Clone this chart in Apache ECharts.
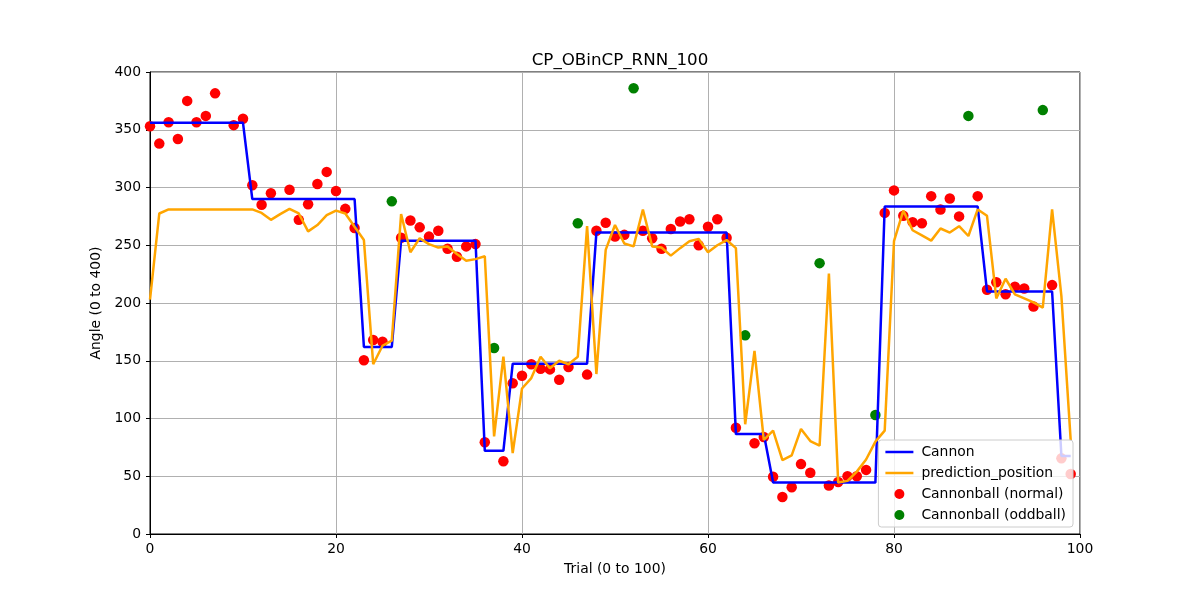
<!DOCTYPE html>
<html>
<head>
<meta charset="UTF-8">
<title>CP_OBinCP_RNN_100</title>
<script src="https://cdn.jsdelivr.net/npm/echarts@6/dist/echarts.min.js"></script>
<style>
  html, body { margin: 0; padding: 0; background: #fff; }
  #main { width: 1200px; height: 600px; }
</style>
</head>
<body>
<div id="main"></div>
<script>
// values, one per trial (0..99)
var cannon = [
  356, 356, 356, 356, 356, 356, 356, 356, 356, 356,
  356, 290, 290, 290, 290, 290, 290, 290, 290, 290,
  290, 290, 290, 162, 162, 162, 162, 254, 254, 254,
  254, 254, 254, 254, 254, 254, 72, 72, 72, 147.5,
  147.5, 147.5, 147.5, 147.5, 147.5, 147.5, 147.5, 147.5, 261, 261,
  261, 261, 261, 261, 261, 261, 261, 261, 261, 261,
  261, 261, 261, 86.5, 86.5, 86.5, 86.5, 44.5, 44.5, 44.5,
  44.5, 44.5, 44.5, 44.5, 44.5, 44.5, 44.5, 44.5, 44.5, 283.5,
  283.5, 283.5, 283.5, 283.5, 283.5, 283.5, 283.5, 283.5, 283.5, 283.5,
  210, 210, 210, 210, 210, 210, 210, 210, 67.5, 67.5
];

var prediction = [
  203, 277.5, 281, 281, 281, 281, 281, 281, 281, 281,
  281, 281, 278, 272, 277, 281.5, 277.5, 262, 267.5, 276,
  280, 277.5, 266, 254.5, 147, 163, 167.5, 277, 244, 256,
  251, 248, 249, 242.5, 236.5, 238, 240.5, 84.5, 153.5, 70,
  126, 135, 153.5, 143.5, 150, 147, 153.5, 266.5, 138.5, 246,
  267.5, 251.5, 249, 281, 249, 248, 241, 247.5, 253.5, 255.5,
  244, 250, 254.5, 247.5, 95, 158.5, 81.5, 89.5, 64, 68,
  91, 80.5, 76.5, 225.5, 44.5, 46, 54, 64.5, 80, 89.5,
  253.5, 280, 263, 258.5, 254, 264.5, 261, 266.5, 258, 281,
  275.5, 204, 221, 207.5, 204, 200.5, 196, 281, 206, 81
];

// normal cannonballs; null where the trial was an oddball or no dot is shown
var ballNormal = [
  353, 338, 356.5, 342, 375, 356.5, 362, 381.5, null, 354,
  359.5, 302, 285, 295, null, 298, 272, 285.5, 303, 313.5,
  297, 281.5, 265, 150.5, 168, 166.5, null, 256.5, 271.5, 265.5,
  257.5, 262.5, 247, 240, 249, 251, 79.5, null, 63, 130.5,
  137, 147, 143, 142.5, 133.5, 144.5, null, 138, 262.5, 269.5,
  257.5, 259, null, 262.5, 256, 247, 264, 270.5, 272.5, 250,
  266, 272.5, 256.5, 92, null, 78.5, 84, 49.5, 32, 40.5,
  60.5, 53, null, 42, 45, 50, 50, 55.5, null, 278,
  297.5, 275.5, 270, 269, 292.5, 281, 290.5, 275, null, 292.5,
  211.5, 218, 207.5, 214, 212.5, 197, null, 215.5, 65.5, 52
];

var oddTrials = [26, 37, 46, 52, 64, 72, 78, 88, 96];
var oddValues = [288, 161, 269, 386, 172, 234.5, 103, 362, 367];

var xTicks = [0, 20, 40, 60, 80, 100];
var yTicks = [0, 50, 100, 150, 200, 250, 300, 350, 400];

var font = 'DejaVu Sans';
var lineIcon = 'path://M0,0 L28,0 L28,2.5 L0,2.5 Z';

function pairs(vals) {
  var out = [];
  for (var i = 0; i < vals.length; i++) {
    if (vals[i] !== null) out.push([i, vals[i]]);
  }
  return out;
}

var oddData = oddTrials.map(function (t, i) { return [t, oddValues[i]]; });

var myChart = echarts.init(document.getElementById('main'));

var option = {
  animation: false,
  backgroundColor: '#ffffff',
  title: {
    text: 'CP_OBinCP_RNN_100',
    left: 615,
    top: 47,
    textAlign: 'center',
    textStyle: { fontFamily: font, fontSize: 16.7, fontWeight: 'normal', color: '#000' }
  },
  grid: {
    left: 150, right: 120, top: 72, bottom: 66,
    show: true, borderColor: '#000', borderWidth: 1, backgroundColor: 'transparent'
  },
  legend: {
    orient: 'vertical',
    right: 127,
    bottom: 73,
    backgroundColor: 'rgba(255,255,255,0.8)',
    borderColor: '#cccccc',
    borderWidth: 1,
    borderRadius: 3,
    padding: [5, 7, 5, 7],
    itemGap: 7,
    itemWidth: 28,
    itemHeight: 10,
    textStyle: { fontFamily: font, fontSize: 13.9, color: '#000', padding: [0, 0, 0, 3] },
    data: [
      { name: 'Cannon', icon: lineIcon },
      { name: 'prediction_position', icon: lineIcon },
      { name: 'Cannonball (normal)', icon: 'circle' },
      { name: 'Cannonball (oddball)', icon: 'circle' }
    ]
  },
  xAxis: {
    type: 'value',
    min: 0, max: 100, interval: 20,
    name: 'Trial (0 to 100)',
    nameLocation: 'middle',
    nameGap: 28,
    nameTextStyle: { fontFamily: font, fontSize: 13.9, color: '#000' },
    axisLine: { show: true, lineStyle: { color: '#000', width: 1 } },
    axisTick: { show: true, length: 4, lineStyle: { color: '#000' } },
    axisLabel: {
      fontFamily: font, fontSize: 13.9, color: '#000', margin: 8,
      formatter: function (v) { return xTicks.indexOf(v) >= 0 ? String(v) : ''; }
    },
    splitLine: { show: true, lineStyle: { color: '#b0b0b0', width: 1 } }
  },
  yAxis: {
    type: 'value',
    min: 0, max: 400, interval: 50,
    name: 'Angle (0 to 400)',
    nameLocation: 'middle',
    nameGap: 40,
    nameTextStyle: { fontFamily: font, fontSize: 13.9, color: '#000' },
    axisLine: { show: true, lineStyle: { color: '#000', width: 1 } },
    axisTick: { show: true, length: 4, lineStyle: { color: '#000' } },
    axisLabel: {
      fontFamily: font, fontSize: 13.9, color: '#000', margin: 9,
      formatter: function (v) { return yTicks.indexOf(v) >= 0 ? String(v) : ''; }
    },
    splitLine: { show: true, lineStyle: { color: '#b0b0b0', width: 1 } }
  },
  series: [
    {
      name: 'Cannonball (normal)',
      type: 'scatter',
      z: 1,
      symbolSize: 10.5,
      itemStyle: { color: '#ff0000', opacity: 1 },
      data: pairs(ballNormal)
    },
    {
      name: 'Cannonball (oddball)',
      type: 'scatter',
      z: 1,
      symbolSize: 10.5,
      itemStyle: { color: '#008000', opacity: 1 },
      data: oddData
    },
    {
      name: 'Cannon',
      type: 'line',
      z: 3,
      symbol: 'none',
      lineStyle: { color: '#0000ff', width: 2.5 },
      itemStyle: { color: '#0000ff' },
      data: pairs(cannon)
    },
    {
      name: 'prediction_position',
      type: 'line',
      z: 3,
      symbol: 'none',
      lineStyle: { color: '#ffa500', width: 2.5 },
      itemStyle: { color: '#ffa500' },
      data: pairs(prediction)
    }
  ]
};

myChart.setOption(option);
</script>
</body>
</html>
